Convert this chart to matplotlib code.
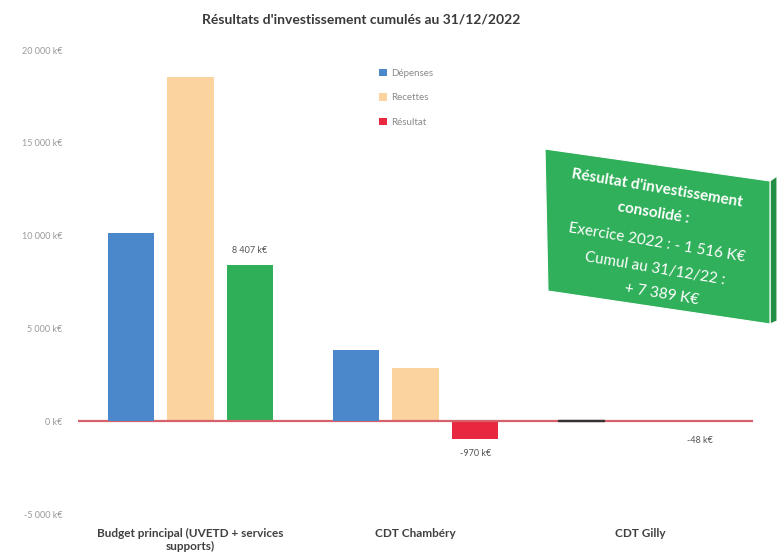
import matplotlib
matplotlib.use("Agg")
import matplotlib.pyplot as plt
from matplotlib.patches import Polygon, Patch
import numpy as np

plt.rcParams['font.family'] = ['Lato', 'DejaVu Sans']

# Data (k€)
categories = ["Budget principal (UVETD + services\nsupports)", "CDT Chambéry", "CDT Gilly"]
depenses = [10138, 3827, 48]
recettes = [18545, 2857, 0]
resultat = [8407, -970, -48]
series_names = ["Dépenses", "Recettes", "Résultat"]
y_ticks = [-5000, 0, 5000, 10000, 15000, 20000]
y_tick_labels = ["-5 000 k€", "0 k€", "5 000 k€", "10 000 k€", "15 000 k€", "20 000 k€"]
result_labels = ["8 407 k€", "-970 k€", "-48 k€"]
box_lines = ["Résultat d'investissement", "consolidé :", "Exercice 2022 : - 1 516 K€",
             "Cumul au 31/12/22 :", "+ 7 389 K€"]

W, H = 777, 558
fig = plt.figure(figsize=(W / 100, H / 100), dpi=100)


def fx(px):
    return px / W


def fy(py):
    return 1 - py / H


ax = fig.add_axes([fx(78), fy(514), fx(753) - fx(78), fy(50) - fy(514)])

c_dep = "#4a87cb"
c_rec = "#fbd39e"
c_res_pos = "#2faf58"
c_res_neg = "#e8283f"

x = np.arange(len(categories))
bw = 0.205
off = 0.265
# very small bars get a dark outline so they stay visible on the axis line
dep_edges = ["#333333" if abs(v) < 200 else "none" for v in depenses]
ax.bar(x - off, depenses, bw, color=c_dep, edgecolor=dep_edges, lw=1.0, zorder=4)
ax.bar(x, recettes, bw, color=c_rec, zorder=2)
res_colors = [c_res_pos if v >= 0 else c_res_neg for v in resultat]
ax.bar(x + off, resultat, bw, color=res_colors, zorder=2)

ax.axhline(0, color="#d8606b", lw=1.6, zorder=3)

for xi, v, lab in zip(x + off, resultat, result_labels):
    if v >= 0:
        ax.annotate(lab, (xi, v), xytext=(0, 7), textcoords="offset points",
                    ha="center", va="bottom", fontsize=6.5, color="#555555")
    else:
        ax.annotate(lab, (xi, min(v, -250)), xytext=(0, -7), textcoords="offset points",
                    ha="center", va="top", fontsize=6.5, color="#555555")

ax.set_xlim(-0.5, 2.5)
ax.set_ylim(-5000, 20000)
ax.set_yticks(y_ticks)
ax.set_yticklabels(y_tick_labels, fontsize=6.5, color="#9a9a9a")
ax.set_xticks(x)
ax.set_xticklabels(categories, fontsize=8.5, color="#404040", fontweight="bold")
ax.tick_params(axis="y", length=0, pad=11)
ax.tick_params(axis="x", length=0, pad=10)
for s in ax.spines.values():
    s.set_visible(False)

handles = [Patch(facecolor=c_dep), Patch(facecolor=c_rec), Patch(facecolor=c_res_neg)]
leg = fig.legend(handles, series_names, loc="upper left",
                 bbox_to_anchor=(fx(370), fy(60)), frameon=False,
                 fontsize=7, handlelength=0.8, handleheight=0.8,
                 handletextpad=0.5, labelspacing=1.6)
for t in leg.get_texts():
    t.set_color("#8a8a8a")

fig.text(fx(361), fy(20), "Résultats d'investissement cumulés au 31/12/2022",
         ha="center", va="center", fontsize=10, fontweight="bold", color="#3a3a3a")

# Green call-out box with a side face
front = [(545, 149), (770, 181), (770, 324), (548, 291)]
side = [(770, 181), (777, 176), (777, 321), (770, 324)]
fig.patches.append(Polygon([(fx(a), fy(b)) for a, b in side], closed=True,
                           transform=fig.transFigure, facecolor="#238f45",
                           edgecolor="white", lw=0.8))
fig.patches.append(Polygon([(fx(a), fy(b)) for a, b in front], closed=True,
                           transform=fig.transFigure, facecolor="#30b05a",
                           edgecolor="white", lw=0.8))

centers = [(657, 188), (653, 213), (657, 243), (655, 269), (662, 294)]
for i, (line, (cx, cy)) in enumerate(zip(box_lines, centers)):
    fig.text(fx(cx), fy(cy), line, ha="center", va="center", rotation=-9.5,
             rotation_mode="anchor", fontsize=11, color="white",
             fontweight="bold" if i < 2 else "normal")

fig.savefig("out.png", dpi=100)
